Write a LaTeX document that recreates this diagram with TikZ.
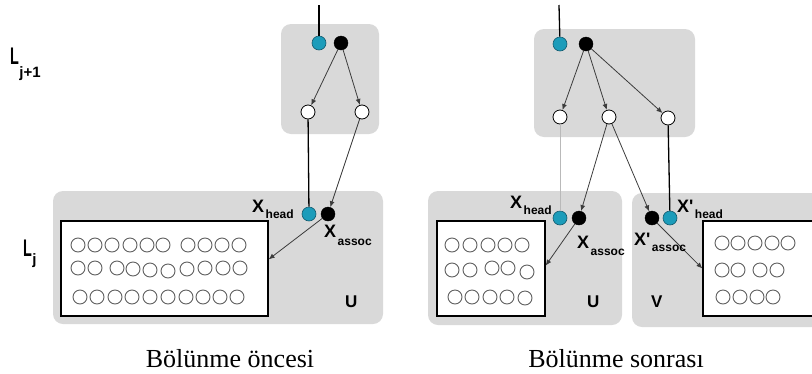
\documentclass[tikz,border=0pt]{standalone}
\usepackage{fontspec}
\setmainfont{Liberation Serif}
\newfontfamily\labelfont{Liberation Sans}
\usetikzlibrary{arrows.meta,calc}

\definecolor{panelgray}{RGB}{217,217,217}
\definecolor{headcyan}{RGB}{28,156,186}
\definecolor{headedge}{RGB}{20,90,110}
\definecolor{ptrgray}{RGB}{60,60,60}

% X label with a lowered subscript word
\newcommand\xlab[3][-6.5pt]{#2\hspace{1.5pt}\raisebox{#1}{\fontsize{12}{12}\selectfont #3}}
% level label: a narrow L with a lowered index
\newcommand\lvl[2]{\scalebox{0.6}[1]{L}\hspace{0.5pt}\raisebox{#1}{\fontsize{15}{15}\selectfont #2}}

\tikzset{
  panel/.style={fill=panelgray, draw=none, rounded corners=10pt},
  headdot/.style={circle, fill=headcyan, draw=headedge, line width=0.6pt, minimum size=14pt, inner sep=0pt},
  assocdot/.style={circle, fill=black, draw=black, minimum size=14pt, inner sep=0pt},
  slotdot/.style={circle, fill=white, draw=black, line width=0.8pt, minimum size=14pt, inner sep=0pt},
  setbox/.style={rectangle, fill=white, draw=black, line width=1.2pt, inner sep=0pt},
  member/.style={draw=gray!75!black, line width=0.9pt},
  ptr/.style={draw=ptrgray, line width=0.8pt, -{Latex[length=6pt,width=5pt]}},
  link/.style={draw=black, line width=1.3pt},
  faintlink/.style={draw=gray!55, line width=1pt},
  xtext/.style={font=\labelfont\bfseries\fontsize{18}{18}\selectfont, inner sep=0pt, anchor=base west},
  settext/.style={font=\labelfont\bfseries\fontsize{17}{17}\selectfont, inner sep=0pt, anchor=base west},
  leveltext/.style={font=\labelfont\bfseries\fontsize{24}{24}\selectfont, inner sep=0pt, anchor=base west},
  caption/.style={font=\fontsize{26}{26}\selectfont, inner sep=0pt, anchor=base}
}

\begin{document}
\begin{tikzpicture}[x=1pt, y=-1pt]
\useasboundingbox (0,0) rectangle (812,373);
\clip (0,0) rectangle (812,373);

% level labels
\node[leveltext] (lvlup) at (10,64) {\lvl{-13pt}{j+1}};
\node[leveltext] (lvldown) at (23,256) {\lvl{-8pt}{j}};

% ---------- before the split ----------
\fill[panel] (281,24) rectangle (379,134);
\fill[panel] (53,191) rectangle (383,324);

\coordinate (inA) at (319,5);
\node[headdot]  (phA) at (319,43) {};
\node[assocdot] (paA) at (341,43) {};
\node[slotdot]  (s1A) at (308,112) {};
\node[slotdot]  (s2A) at (362,112) {};

\node[setbox, minimum width=207pt, minimum height=95pt] (setA) at (164.5,268.5) {};
\node[headdot]  (xhA) at (309,214) {};
\node[assocdot] (xaA) at (328,214) {};

\draw[link] (inA) -- (phA);
\draw[ptr] (paA) -- (s1A);
\draw[ptr] (paA) -- (s2A);
\draw[link] (s1A) -- (xhA);
\draw[ptr] (s2A) -- (xaA);
\draw[ptr] (xaA) -- (setA.5);

\foreach \px in {78,95,112,130,147,163,188,205,222,239}
  \draw[member] (\px,245) circle[radius=7pt];
\foreach \px/\py in {78/268,95/268,117/268,133/269,150/270,168/271,187/269,205/268,223/268,240/268}
  \draw[member] (\px,\py) circle[radius=7pt];
\foreach \px in {80,97,115,132,150,168,186,203,220,237}
  \draw[member] (\px,297) circle[radius=7pt];

\node[xtext] (lhA) at (252,212) {\xlab{X}{head}};
\node[xtext] (laA) at (324,237) {\xlab[-8pt]{X}{assoc}};
\node[settext] (uA) at (345,307) {U};

\node[caption] (capA) at (230,367) {Bölünme öncesi};

% ---------- after the split ----------
\fill[panel] (534,29) rectangle (695,137);
\fill[panel] (428,191) rectangle (622,325);
\fill[panel] (632,193) rectangle (830,327);

\coordinate (inB) at (559,5);
\node[headdot]  (phB) at (560,44) {};
\node[assocdot] (paB) at (586,44) {};
\node[slotdot]  (s1B) at (560,117) {};
\node[slotdot]  (s2B) at (609,117) {};
\node[slotdot]  (s3B) at (668,118) {};

\node[setbox, minimum width=108pt, minimum height=95pt] (setU) at (491,268.5) {};
\node[setbox, minimum width=117pt, minimum height=95pt] (setV) at (761.5,268.5) {};

\node[headdot]  (xhU) at (560,218) {};
\node[assocdot] (xaU) at (579,218) {};
\node[assocdot] (xaV) at (652,218) {};
\node[headdot]  (xhV) at (670,218) {};

\draw[link] (inB) -- (phB);
\draw[ptr] (paB) -- (s1B);
\draw[ptr] (paB) -- (s2B);
\draw[ptr] (paB) -- (s3B);
\draw[faintlink] (s1B) -- (xhU);
\draw[ptr] (s2B) -- (xaU);
\draw[ptr] (s2B) -- (xaV);
\draw[link] (s3B) -- (xhV);
\draw[ptr] (xaU) -- (setU.3);
\draw[ptr] (xaV) -- (setV.west);

\foreach \px in {452,470,488,505,522}
  \draw[member] (\px,245) circle[radius=7pt];
\foreach \px/\py in {452/270,470/270,492/268,508/268,527/272}
  \draw[member] (\px,\py) circle[radius=7pt];
\foreach \px/\py in {455/297,472/297,490/297,507/297,525/298}
  \draw[member] (\px,\py) circle[radius=7pt];

\foreach \px in {722,738,755,772,788}
  \draw[member] (\px,243) circle[radius=7pt];
\foreach \px in {722,738,760,777}
  \draw[member] (\px,270) circle[radius=7pt];
\foreach \px in {723,740,757,773}
  \draw[member] (\px,297) circle[radius=7pt];

\node[xtext] (lhU) at (510,208) {\xlab{X}{head}};
\node[xtext] (laU) at (577,248) {\xlab[-7pt]{X}{assoc}};
\node[xtext] (lhV) at (677,212) {\xlab{X'}{head}};
\node[xtext] (laV) at (634,245) {\xlab{X'}{assoc}};
\node[settext] (uB) at (587,307) {U};
\node[settext] (vB) at (651,307) {V};

\node[caption] (capB) at (616,367) {Bölünme sonrası};
\end{tikzpicture}
\end{document}
